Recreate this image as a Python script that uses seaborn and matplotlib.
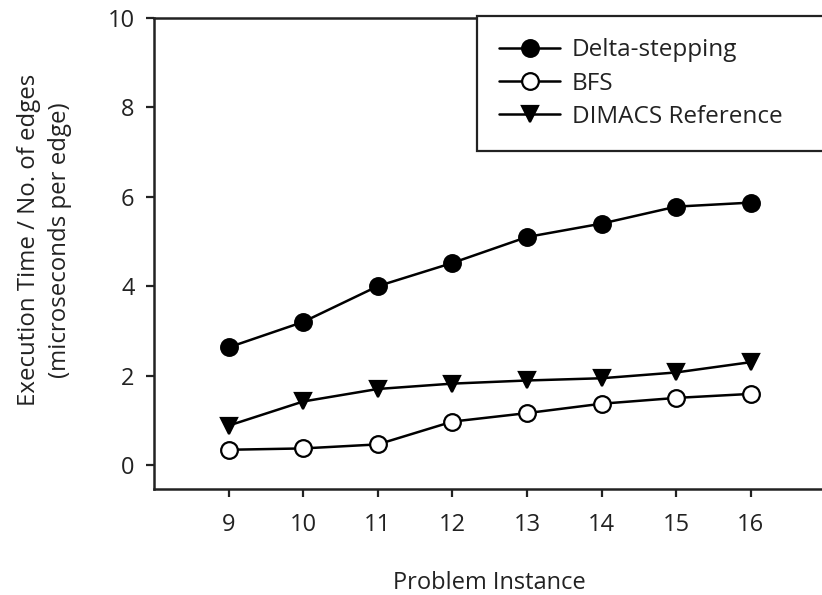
import numpy as np
import pandas as pd
import matplotlib
matplotlib.use("Agg")
import matplotlib.pyplot as plt
import seaborn as sns

# values
instances = [9, 10, 11, 12, 13, 14, 15, 16]
delta_stepping = [2.63, 3.20, 4.00, 4.52, 5.10, 5.40, 5.78, 5.87]
bfs = [0.34, 0.37, 0.46, 0.97, 1.16, 1.37, 1.50, 1.59]
dimacs_ref = [0.88, 1.42, 1.70, 1.82, 1.89, 1.94, 2.07, 2.30]
y_ticks = [0, 2, 4, 6, 8, 10]

sns.set_style("ticks")
plt.rcParams['font.family'] = ['Open Sans', 'DejaVu Sans']

fig = plt.figure(figsize=(8.22, 5.95), dpi=100)
ax = fig.add_axes([0.1873, 0.178, 0.8168, 0.7917])

series = [
    ("Delta-stepping", delta_stepping, "o", "black"),
    ("BFS", bfs, "o", "white"),
    ("DIMACS Reference", dimacs_ref, "v", "black"),
]
for name, vals, mk, fc in series:
    sns.lineplot(x=instances, y=vals, ax=ax, color="black", lw=1.8,
                 marker=mk, markersize=12, markerfacecolor=fc,
                 markeredgecolor="black", markeredgewidth=1.6, label=name)

ax.set_xlim(8, 17)
ax.set_ylim(-0.54, 10)
ax.set_xticks(instances)
ax.set_yticks(y_ticks)
ax.tick_params(axis="both", direction="out", length=6, width=1.6,
               labelsize=17, color="#222222", labelcolor="#222222")
ax.tick_params(axis="x", pad=11)
ax.tick_params(axis="y", pad=8)
for s in ["left", "bottom", "top"]:
    ax.spines[s].set_linewidth(1.8)
    ax.spines[s].set_color("#222222")
ax.spines["right"].set_visible(False)

ax.set_xlabel("Problem Instance", fontsize=17, color="#222222", labelpad=25)
ax.set_ylabel("Execution Time / No. of edges\n(microseconds per edge)",
              fontsize=17.3, color="#222222", linespacing=1.4)
ax.yaxis.set_label_coords(-0.122, 0.529)

leg = ax.legend(loc="upper left", bbox_to_anchor=(0.580, 0.745, 0.45, 0.228),
                bbox_transform=fig.transFigure, mode="expand", borderaxespad=0,
                fontsize=17.5, frameon=True, fancybox=False, framealpha=1,
                edgecolor="#222222", borderpad=0.92, labelspacing=0.38,
                handlelength=2.5, handletextpad=0.5, markerscale=1.0)
leg.get_frame().set_linewidth(1.6)
for t in leg.get_texts():
    t.set_color("#222222")

fig.savefig("out.png", dpi=100)
